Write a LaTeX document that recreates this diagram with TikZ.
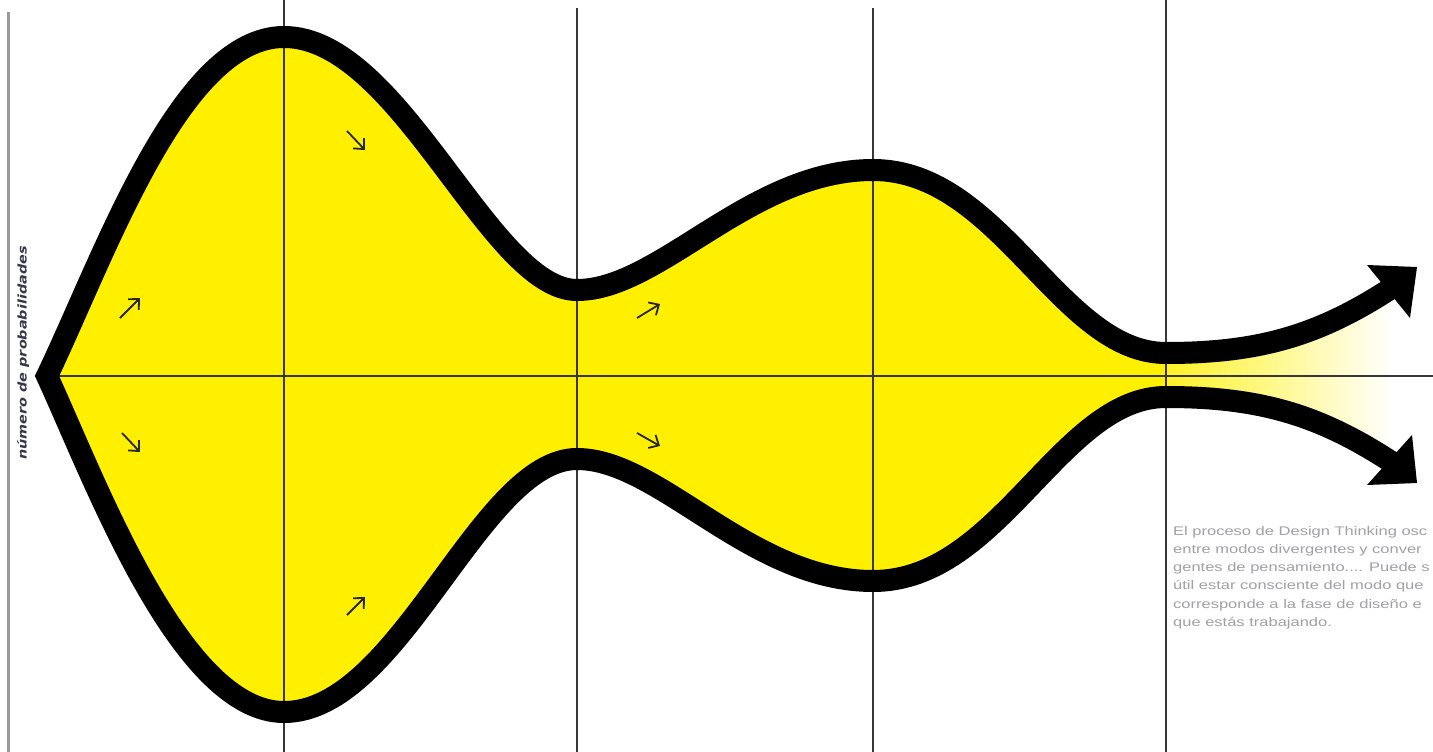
\documentclass[tikz,border=0pt]{standalone}
\usepackage{fontspec}
\usetikzlibrary{arrows.meta}
\newfontfamily\bodyfont{Liberation Sans}[FakeStretch=1.32]
\newfontfamily\labfont{DejaVu Sans}[FakeStretch=1.2]
\definecolor{ylw}{RGB}{255,240,0}
\definecolor{gridc}{RGB}{55,55,55}
\definecolor{bodyc}{RGB}{160,160,165}
\definecolor{labc}{RGB}{55,55,75}
\begin{document}
\begin{tikzpicture}[x=1pt,y=-1pt,
  gridline/.style={draw=gridc,line width=1.5pt},
  bigline/.style={draw=black,line width=22pt,line join=miter,miter limit=10},
  smallarr/.style={draw=black!85,line width=1.8pt,-{Straight Barb[length=8pt,width=15pt]}},
  headtri/.style={fill=black}
]
\useasboundingbox (0,0) rectangle (1433,752);
\clip (0,0) rectangle (1433,752);
\fill[white] (0,0) rectangle (1433,752);
% yellow body
\fill[ylw] (47,376) .. controls (105,255) and (180,37) .. (284,37)
  .. controls (400,37) and (490,290) .. (577,290)
  .. controls (660,290) and (750,170) .. (873,170)
  .. controls (1000,170) and (1060,353) .. (1166,353)
  -- (1166,397)
  .. controls (1060,397) and (1000,581) .. (873,581)
  .. controls (750,581) and (660,459) .. (577,459)
  .. controls (480,459) and (400,712) .. (284,712)
  .. controls (180,712) and (95,480) .. (47,376) -- cycle;
% fading part
\shade[left color=ylw!85!white, right color=white]
  (1166,353) .. controls (1260,353) and (1320,335) .. (1393,287)
  -- (1393,463) .. controls (1320,415) and (1260,397) .. (1166,397) -- cycle;
% grid
\draw[draw=gray!80, line width=3pt] (8,12) -- (8,752);
\draw[gridline] (284,0) -- (284,752);
\draw[gridline] (577,8) -- (577,752);
\draw[gridline] (873,8) -- (873,752);
\draw[gridline] (1166,0) -- (1166,752);
\draw[gridc, line width=2pt] (47,376) -- (1433,376);
% black outline
\draw[bigline] (1393,287) .. controls (1320,335) and (1260,353) .. (1166,353)
  .. controls (1060,353) and (1000,170) .. (873,170)
  .. controls (750,170) and (660,290) .. (577,290)
  .. controls (490,290) and (400,37) .. (284,37)
  .. controls (180,37) and (105,255) .. (47,376)
  .. controls (95,480) and (180,712) .. (284,712)
  .. controls (400,712) and (480,459) .. (577,459)
  .. controls (660,459) and (750,581) .. (873,581)
  .. controls (1000,581) and (1060,397) .. (1166,397)
  .. controls (1260,397) and (1320,415) .. (1393,463);
\fill[headtri] (1417,267) -- (1367,265) -- (1410,318) -- cycle;
\fill[headtri] (1417,483) -- (1367,485) -- (1412,435) -- cycle;
% small arrows
\draw[smallarr] (120,318) -- (140,298);
\draw[smallarr] (122,433) -- (140,452);
\draw[smallarr] (347,131) -- (365,150);
\draw[smallarr] (347,615) -- (365,597);
\draw[smallarr] (637,318) -- (660,304);
\draw[smallarr] (637,433) -- (660,446);
% texts
\node[rotate=90, inner sep=0, text=labc, font=\labfont\bfseries\itshape\fontsize{12}{14}\selectfont] (lab) at (23,353) {número de probabilidades};
\node[anchor=north west, inner sep=0, align=left, text=bodyc, font=\bodyfont\fontsize{12.5}{18.2}\selectfont] (txt) at (1173,526)
  {El proceso de Design Thinking osc\\ entre modos divergentes y conver\\ gentes de pensamiento.... Puede s\\ útil estar consciente del modo que\\ corresponde a la fase de diseño e\\ que estás trabajando.};
\end{tikzpicture}
\end{document}
